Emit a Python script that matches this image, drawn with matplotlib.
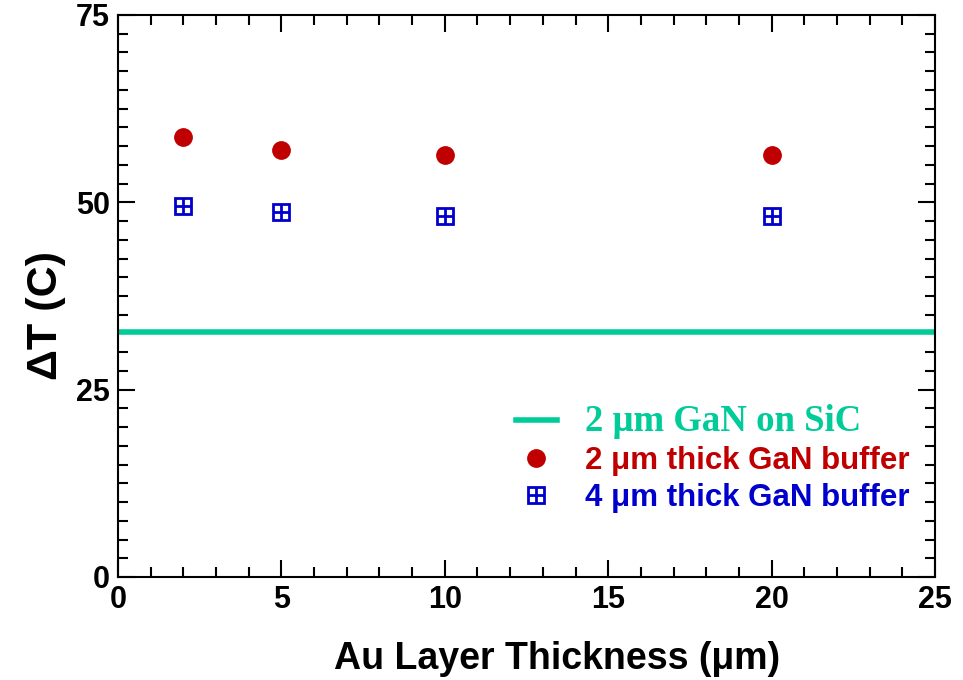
import numpy as np
import matplotlib
matplotlib.use('Agg')
import matplotlib.pyplot as plt
from matplotlib.ticker import MultipleLocator
from matplotlib.lines import Line2D

# data
au_thick = [2, 5, 10, 20]
dt_2um = [58.7, 57.0, 56.3, 56.3]
dt_4um = [49.5, 48.7, 48.2, 48.2]
dt_sic = 32.7

green = '#00CC99'
red = '#C00000'
blue = '#0000CC'

plt.rcParams['font.family'] = ['Liberation Sans', 'DejaVu Sans']
plt.rcParams['font.weight'] = 'bold'

fig = plt.figure(figsize=(9.63, 6.8), dpi=100)
ax = fig.add_axes([0.1225, 0.1515, 0.8485, 0.8265])

ax.axhline(dt_sic, color=green, lw=4)
ax.plot(au_thick, dt_2um, 'o', color=red, ms=12.5, ls='none')
ax.plot(au_thick, dt_4um, 's', mfc='none', mec=blue, mew=2, ms=12, ls='none')
ax.plot(au_thick, dt_4um, '+', color=blue, mew=2, ms=12, ls='none')

ax.set_xlim(0, 25)
ax.set_ylim(0, 75)
ax.xaxis.set_major_locator(MultipleLocator(5))
ax.xaxis.set_minor_locator(MultipleLocator(1))
ax.yaxis.set_major_locator(MultipleLocator(25))
ax.yaxis.set_minor_locator(MultipleLocator(2.5))
ax.tick_params(which='both', direction='in', top=True, right=True, width=1.5)
ax.tick_params(which='major', length=12, labelsize=22, pad=6)
ax.tick_params(which='minor', length=7)
for lab in ax.get_xticklabels() + ax.get_yticklabels():
    lab.set_fontweight('bold')
for sp in ax.spines.values():
    sp.set_linewidth(1.5)

ax.set_xlabel('Au Layer Thickness (\u03bcm)', fontsize=27, fontweight='bold')
ax.xaxis.set_label_coords(0.537, -0.114)
ax.set_ylabel('\u0394T (C)', fontsize=31, fontweight='bold')
ax.yaxis.set_label_coords(-0.064, 0.466)

h_line = Line2D([], [], color=green, lw=4)
h_red = Line2D([], [], marker='o', color=red, ms=12.5, ls='none')
h_sq = Line2D([], [], marker='s', mfc='none', mec=blue, mew=2, ms=12, ls='none')
h_pl = Line2D([], [], marker='+', color=blue, mew=2, ms=12, ls='none')
leg = ax.legend([h_line, h_red, (h_sq, h_pl)],
                ['2 \u03bcm GaN on SiC', '2 \u03bcm thick GaN buffer', '4 \u03bcm thick GaN buffer'],
                loc='upper left', bbox_to_anchor=(0.468, 0.335), frameon=False,
                borderpad=0, handlelength=1.3, handletextpad=0.9, labelspacing=0.22,
                fontsize=22.5)
texts = leg.get_texts()
texts[0].set_color(green)
texts[0].set_fontfamily('Liberation Serif')
texts[0].set_fontsize(26.5)
texts[1].set_color(red)
texts[2].set_color(blue)
for t in texts:
    t.set_fontweight('bold')

fig.savefig('out.png', dpi=100)
